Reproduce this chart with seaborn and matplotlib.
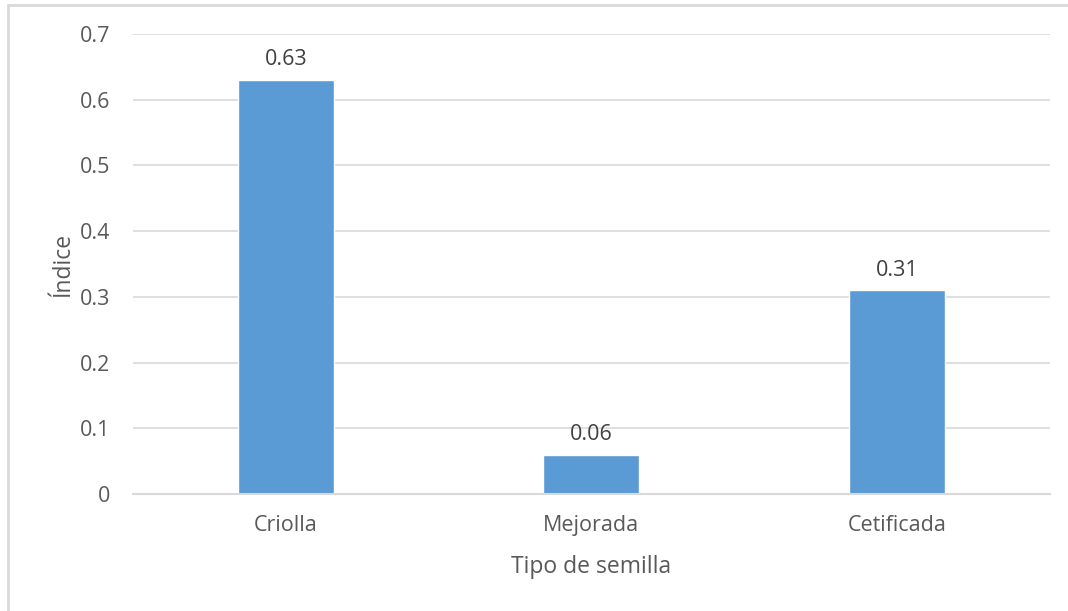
import matplotlib
matplotlib.use("Agg")
import pandas as pd
import seaborn as sns
from matplotlib import pyplot as plt
from matplotlib.lines import Line2D

# datos
tipos = ["Criolla", "Mejorada", "Cetificada"]
indices = [0.63, 0.06, 0.31]
etiquetas = ["0.63", "0.06", "0.31"]
ticks_y = [0, 0.1, 0.2, 0.3, 0.4, 0.5, 0.6, 0.7]
ticks_y_txt = ["0", "0.1", "0.2", "0.3", "0.4", "0.5", "0.6", "0.7"]

df = pd.DataFrame({"Tipo de semilla": tipos, "Índice": indices})

sns.set_theme(style="white")
plt.rcParams["font.family"] = ["Open Sans", "DejaVu Sans"]

gris_texto = "#595959"
gris_linea = "#d9d9d9"

fig = plt.figure(figsize=(10.68, 6.11), dpi=100)
ax = fig.add_axes([0.1245, 0.1915, 0.8585, 0.753])

sns.barplot(data=df, x="Tipo de semilla", y="Índice", color="#5b9bd5",
            width=0.314, saturation=1, ax=ax, zorder=3)

ax.set_ylim(0, 0.7)
ax.set_xlim(-0.5, 2.5)
ax.set_yticks(ticks_y)
ax.set_yticklabels(ticks_y_txt)
ax.yaxis.grid(True, color=gris_linea, linewidth=1.2, zorder=0)
ax.set_axisbelow(True)
for lado in ["top", "right", "left"]:
    ax.spines[lado].set_visible(False)
ax.spines["bottom"].set_color(gris_linea)
ax.spines["bottom"].set_linewidth(1.5)
ax.spines["bottom"].set_zorder(4)
ax.tick_params(axis="both", length=0, labelsize=15.5, colors=gris_texto)
ax.tick_params(axis="y", pad=16.5)
ax.tick_params(axis="x", pad=15)

for i, (v, t) in enumerate(zip(indices, etiquetas)):
    ax.annotate(t, (i, v), xytext=(0, 7), textcoords="offset points",
                ha="center", va="bottom", fontsize=15.5, color="#404040")

ax.set_xlabel("Tipo de semilla", fontsize=16.5, color=gris_texto, labelpad=14)
ax.set_ylabel("Índice", fontsize=16.5, color=gris_texto, labelpad=3)

# borde del area del grafico (solo izquierda y arriba visibles)
fig.add_artist(Line2D([7.5 / 1068, 7.5 / 1068], [0, 1 - 5 / 611],
                      transform=fig.transFigure, color=gris_linea, linewidth=2))
fig.add_artist(Line2D([7.5 / 1068, 1], [1 - 5 / 611, 1 - 5 / 611],
                      transform=fig.transFigure, color=gris_linea, linewidth=2))

fig.savefig("out.png", dpi=100)
